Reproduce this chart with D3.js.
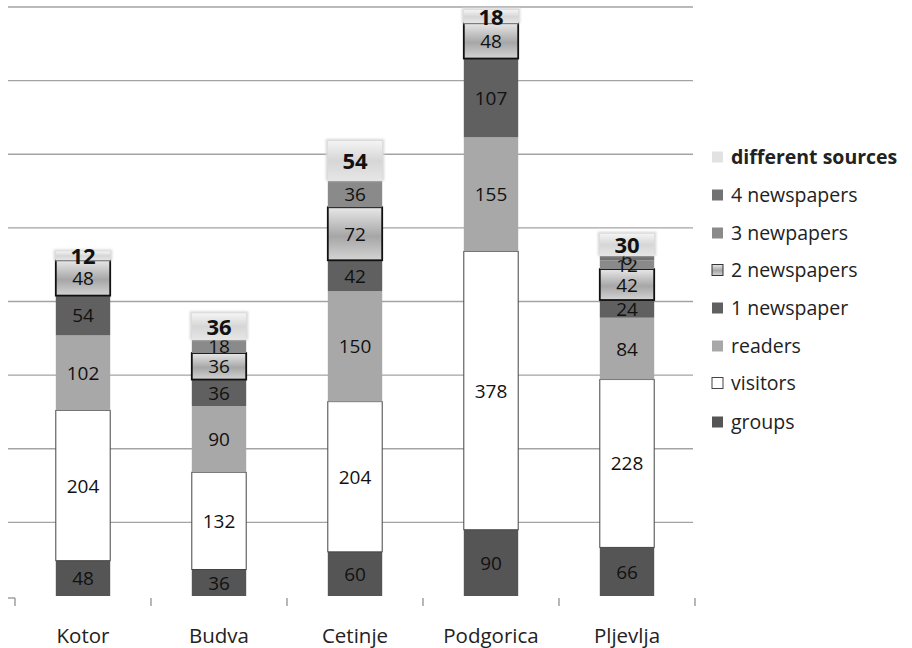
<!DOCTYPE html>
<html><head><meta charset="utf-8">
<script src="https://cdn.jsdelivr.net/npm/d3@7"></script>
<style>
html,body{margin:0;padding:0;background:#fff;}
svg{display:block;font-family:"Open Sans","Lato",sans-serif;}
</style></head>
<body><svg id="chart" width="912" height="648"></svg>
<script>
const categories = ["Kotor","Budva","Cetinje","Podgorica","Pljevlja"];
const seriesNames = ["groups","visitors","readers","1 newspaper","2 newspapers","3 newpapers","4 newspapers","different sources"];
const groups = [48,36,60,90,66];
const visitors = [204,132,204,378,228];
const readers = [102,90,150,155,84];
const oneNewspaper = [54,36,42,107,24];
const twoNewspapers = [48,36,72,48,42];
const threeNewpapers = [0,18,36,0,12];
const fourNewspapers = [0,0,0,0,6];
const differentSources = [12,36,54,18,30];
const yTicks = [0,100,200,300,400,500,600,700,800];

const seriesValues = [groups,visitors,readers,oneNewspaper,twoNewspapers,threeNewpapers,fourNewspapers,differentSources];
const fills = ["#555555","#ffffff","#a8a8a8","#606060","url(#g2)","#8a8a8a","#727272","url(#gdiff)"];
const strokes = ["none","#444","none","none","#111","none","none","none"];

const table = categories.map((c,i)=>{
  const row = {cat:c};
  seriesNames.forEach((s,j)=>row[s]=seriesValues[j][i]);
  return row;
});

const svg = d3.select("#chart");
const defs = svg.append("defs");
const g2 = defs.append("linearGradient").attr("id","g2").attr("x1",0).attr("x2",0).attr("y1",0).attr("y2",1);
g2.append("stop").attr("offset","0%").attr("stop-color","#e8e8e8");
g2.append("stop").attr("offset","55%").attr("stop-color","#a6a6a6");
g2.append("stop").attr("offset","100%").attr("stop-color","#d4d4d4");
const gd = defs.append("linearGradient").attr("id","gdiff").attr("x1",0).attr("x2",0).attr("y1",0).attr("y2",1);
gd.append("stop").attr("offset","0%").attr("stop-color","#f4f4f4");
gd.append("stop").attr("offset","50%").attr("stop-color","#d6d6d6");
gd.append("stop").attr("offset","100%").attr("stop-color","#e6e6e6");
const blur = defs.append("filter").attr("id","soft").attr("x","-20%").attr("y","-20%").attr("width","140%").attr("height","140%");
blur.append("feGaussianBlur").attr("stdDeviation",1.2);

const x = d3.scaleBand().domain(categories).range([15,695]).paddingInner(0.6).paddingOuter(0.3);
const y = d3.scaleLinear().domain([0,800]).range([596,7]);

// gridlines
svg.append("g").selectAll("line").data(yTicks.filter(t=>t>0)).join("line")
  .attr("x1",8).attr("x2",693).attr("y1",d=>y(d)).attr("y2",d=>y(d))
  .attr("stroke","#a3a3a3").attr("stroke-width",1.4);

// x axis ticks
const step = x.step();
const tickXs = d3.range(categories.length+1).map(i=>x.range()[0]+i*step);
svg.append("g").selectAll("line").data(tickXs).join("line")
  .attr("x1",d=>d).attr("x2",d=>d).attr("y1",598).attr("y2",606)
  .attr("stroke","#888").attr("stroke-width",1.2);
svg.append("line").attr("x1",8).attr("x2",15).attr("y1",598).attr("y2",598).attr("stroke","#888").attr("stroke-width",1.2);

svg.append("g").selectAll("text").data(categories).join("text")
  .attr("x",d=>x(d)+x.bandwidth()/2).attr("y",643)
  .attr("text-anchor","middle").attr("font-size",20.5).attr("fill","#222")
  .text(d=>d);

const stack = d3.stack().keys(seriesNames)(table);

const layers = svg.append("g").selectAll("g").data(stack).join("g");
layers.each(function(layer,li){
  const gsel = d3.select(this);
  const data = layer.filter(d=>d[1]-d[0]>0);
  if(li===7){
    gsel.selectAll("rect.glow").data(data).join("rect")
      .attr("x",d=>x(d.data.cat)-2).attr("width",x.bandwidth()+4)
      .attr("y",d=>y(d[1])-2).attr("height",d=>y(d[0])-y(d[1])+2)
      .attr("fill","#d8d8d8").attr("filter","url(#soft)");
  }
  gsel.selectAll("rect.seg").data(data).join("rect")
    .attr("class","seg")
    .attr("x",d=>x(d.data.cat)).attr("width",x.bandwidth())
    .attr("y",d=>y(d[1])).attr("height",d=>y(d[0])-y(d[1]))
    .attr("fill",fills[li])
    .attr("stroke",strokes[li])
    .attr("stroke-width",li===4?1.8:1);
});

// labels
layers.each(function(layer,li){
  const data = layer.filter(d=>d[1]-d[0]>0);
  d3.select(this).selectAll("text").data(data).join("text")
    .attr("x",d=>x(d.data.cat)+x.bandwidth()/2)
    .attr("y",d=>(y(d[0])+y(d[1]))/2 + (li===7?8:7))
    .attr("text-anchor","middle")
    .attr("font-size",li===7?22:19)
    .attr("font-weight",li===7?"bold":"normal")
    .attr("fill","#111")
    .text(d=>d[1]-d[0]);
});

// legend
const legendY = [422,383,346,308,270,233,195,157];
const leg = svg.append("g").selectAll("g").data(seriesNames).join("g")
  .attr("transform",(d,i)=>`translate(712,${legendY[i]})`);
leg.append("rect").attr("x",0).attr("y",-5.5).attr("width",11).attr("height",11)
  .attr("fill",(d,i)=>i===7?"#e2e2e2":(i===4?"url(#g2)":fills[i]))
  .attr("stroke",(d,i)=>i===1?"#444":(i===4?"#333":"none"))
  .attr("stroke-width",1);
leg.append("text").attr("x",19).attr("y",7).attr("font-size",19.5)
  .attr("font-weight",(d,i)=>i===7?"bold":"normal")
  .attr("fill","#222").text(d=>d);
</script></body></html>
